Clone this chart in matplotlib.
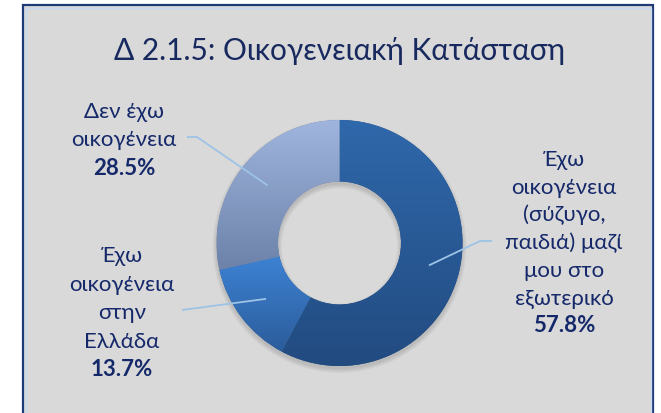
import numpy as np
import matplotlib
matplotlib.use('Agg')
import matplotlib.pyplot as plt
from matplotlib.patches import Rectangle, Wedge
from matplotlib.colors import LinearSegmentedColormap

# ---------------- data ----------------
title = "Δ 2.1.5: Οικογενειακή Κατάσταση"
categories = [
    "Έχω\nοικογένεια\n(σύζυγο,\nπαιδιά) μαζί\nμου στο\nεξωτερικό",
    "Έχω\nοικογένεια\nστην\nΕλλάδα",
    "Δεν έχω\nοικογένεια",
]
values = [57.8, 13.7, 28.5]
value_labels = ["57.8%", "13.7%", "28.5%"]

# ---------------- style ----------------
W, H = 661, 414
FONT = ['Lato', 'Open Sans', 'DejaVu Sans']
TXT = '#15296a'
grad_colors = [('#2f68ab', '#224b80'),   # (top, bottom)
               ('#3d82d3', '#2c5c9b'),
               ('#a0b5dd', '#6c82a9')]
LEADER = '#9dc3e6'

fig = plt.figure(figsize=(W / 100, H / 100), dpi=100)
fig.patch.set_facecolor('white')
ax = fig.add_axes([0, 0, 1, 1])


def py(y):
    return H - y


# frame
ax.add_patch(Rectangle((23, -10), 630, py(6) + 10, facecolor='#d9d9d9',
                       edgecolor='#1f3a78', lw=1.6, zorder=0))
ax.add_patch(Rectangle((25.5, -10), 625, py(8.5) + 10, facecolor='none',
                       edgecolor='#c6d9f0', lw=1.0, zorder=0.5))

# donut
cx, cy = 339.5, py(244)
R = 123
ring = R * 0.5

# soft shadow
for k in range(6):
    ax.add_patch(Wedge((cx, cy - 3), R + k * 0.8, 0, 360, width=ring + 2 * k * 0.8,
                       facecolor='black', alpha=0.025, lw=0, zorder=1))

wedges, _ = ax.pie(values, center=(cx, cy), radius=R, startangle=90,
                   counterclock=False, wedgeprops=dict(width=ring, linewidth=0),
                   frame=False)
for w, (top, bot) in zip(wedges, grad_colors):
    w.set_zorder(2)
    w.set_facecolor(bot)
    ext = w.get_path().get_extents()
    cmap = LinearSegmentedColormap.from_list('g', [bot, top])
    grad = np.linspace(0, 1, 256).reshape(-1, 1)
    im = ax.imshow(grad, cmap=cmap, origin='lower', aspect='auto',
                   extent=(ext.x0, ext.x1, ext.y0, ext.y1), zorder=3,
                   interpolation='bilinear')
    im.set_clip_path(w)

# leader anchors at slice mid-angles
r_mid = R - ring / 2
cum = np.cumsum([0] + values[:-1])
mids = [90 - (c + v / 2) / sum(values) * 360 for c, v in zip(cum, values)]
anchors = [(cx + r_mid * np.cos(np.radians(a)), cy + r_mid * np.sin(np.radians(a)))
           for a in mids]

leader_paths = [
    [(480, py(242)), (492, py(242))],
    [(182, py(311))],
    [(197, py(138)), (187, py(138))],
]
for (ax0, ay0), pts in zip(anchors, leader_paths):
    xs = [ax0] + [p[0] for p in pts]
    ys = [ay0] + [p[1] for p in pts]
    ax.plot(xs, ys, color=LEADER, lw=1.3, zorder=4, solid_capstyle='butt')

# labels
label_pos = [(564, 166, 27.7), (122, 262, 28.6), (124, 118, 28.5)]
LFS = 16
for cat, vl, (lx, ly, sp) in zip(categories, value_labels, label_pos):
    lines = cat.split('\n')
    for i, ln in enumerate(lines):
        ax.text(lx, py(ly + i * sp), ln, ha='center', va='baseline',
                fontsize=LFS, color=TXT, family=FONT, zorder=5)
    ax.text(lx, py(ly + len(lines) * sp), vl, ha='center', va='baseline',
            fontsize=LFS, color=TXT, family=FONT, fontweight='bold', zorder=5)

ax.text(340, py(60), title, ha='center', va='baseline', fontsize=21.5,
        color='#17295f', family=FONT, zorder=5)

ax.set_xlim(0, W)
ax.set_ylim(0, H)
ax.set_aspect('auto')
ax.axis('off')

fig.savefig('out.png', dpi=100, facecolor='white')
